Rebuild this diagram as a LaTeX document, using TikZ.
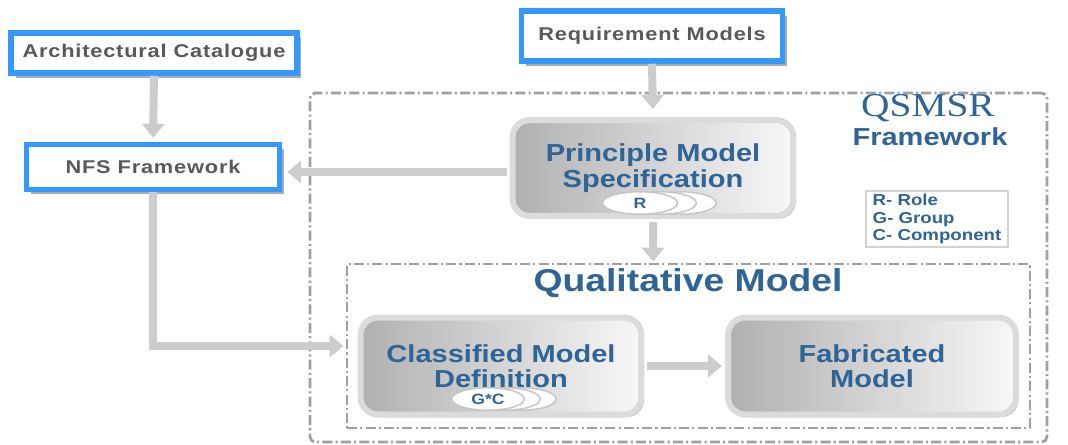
\documentclass[tikz,border=0pt]{standalone}
\usepackage{fontspec}
\setmainfont{Liberation Sans}[FakeStretch=1.18]
\newfontfamily\qsserif{Liberation Serif}[FakeStretch=1.18]
\usetikzlibrary{arrows.meta,shadows,shapes.geometric}

\definecolor{qblue}{HTML}{2F6496}
\definecolor{boxblue}{HTML}{3399FF}
\definecolor{arrowgray}{HTML}{CCCCCC}
\definecolor{labelgray}{HTML}{595959}
\definecolor{framegray}{HTML}{A0A0A0}

\tikzset{
  inputbox/.style={draw=boxblue, line width=0.11cm, fill=white, text=labelgray,
    font=\bfseries\fontsize{10.5}{12}\selectfont\addfontfeatures{LetterSpace=4.5}, inner sep=0pt,
    drop shadow={shadow xshift=0.09cm, shadow yshift=-0.09cm, fill=gray!65, opacity=1}},
  procbox/.style={rounded corners=0.35cm, draw=gray!28, line width=0.12cm,
    left color=gray!62, right color=gray!6, text=qblue, align=center,
    font=\bfseries\fontsize{14}{14.4}\selectfont, inner sep=0pt,
    drop shadow={shadow xshift=0.05cm, shadow yshift=-0.05cm, fill=gray!70, opacity=1}},
  flow/.style={draw=arrowgray, line width=0.16cm, -{Triangle[width=0.44cm,length=0.28cm]}},
  frame/.style={draw=framegray, line width=0.055cm,
    dash pattern=on 5.7pt off 1.8pt on 1.2pt off 1.8pt},
  tag/.style={ellipse, draw=gray!45, line width=0.03cm, fill=white, minimum width=1.45cm,
    minimum height=0.45cm, inner sep=0pt, text=qblue, font=\bfseries\fontsize{8.5}{9}\selectfont},
  heading/.style={text=qblue, inner sep=0pt}
}

\begin{document}
\begin{tikzpicture}[x=0.02cm, y=-0.02cm]
  \useasboundingbox (0,0) rectangle (1068,444);

  % frames
  \node[frame, rounded corners=0.1cm, minimum width=14.74cm, minimum height=6.98cm] (qsmsr) at (678.5,267.5) {};
  \node[frame, minimum width=13.66cm, minimum height=3.28cm] (qual) at (688.5,346) {};

  \node[heading, font=\qsserif\fontsize{19}{20}\selectfont] (qstitle) at (928,108) {QSMSR};
  \node[heading, font=\bfseries\fontsize{14}{15}\selectfont] (fwtitle) at (930,137) {Framework};
  \node[heading, font=\bfseries\fontsize{18}{19}\selectfont] (qualtitle) at (688,283) {Qualitative Model};

  % legend
  \node[draw=gray!35, line width=0.04cm, fill=white, anchor=north west, align=left,
    inner xsep=0.05cm, inner ysep=0.06cm, minimum width=2.84cm, minimum height=1.12cm,
    text=qblue, font=\bfseries\fontsize{9}{9.9}\selectfont] (legend) at (865,190)
    {R- Role\\G- Group\\C- Component};

  % input boxes
  \node[inputbox, minimum width=5.72cm, minimum height=0.8cm] (arch) at (154,53) {Architectural Catalogue};
  \node[inputbox, minimum width=5.22cm, minimum height=1.0cm] (req) at (652,36) {Requirement Models};
  \node[inputbox, minimum width=5.06cm, minimum height=0.9cm] (nfs) at (153,167) {NFS Framework};

  % model boxes
  \node[procbox, minimum width=5.62cm, minimum height=1.92cm] (princ) at (653,168) {Principle Model\\Specification};
  \node[procbox, minimum width=5.62cm, minimum height=1.94cm] (cls) at (501,366) {Classified Model\\Definition};
  \node[procbox, minimum width=5.76cm, minimum height=1.94cm] (fab) at (872,366) {Fabricated\\Model};

  % role tags
  \node[tag] (r3) at (680,203) {};
  \node[tag] (r2) at (660,203) {};
  \node[tag, minimum width=1.5cm] (rtag) at (640,203) {R};
  \node[tag] (gc3) at (520,399) {};
  \node[tag] (gc2) at (504,399) {};
  \node[tag] (gctag) at (488,399) {G*C};

  % connectors
  \draw[flow, shorten >=0.16cm] (req.south) -- (princ.north);
  \draw[flow, shorten <=0.06cm, shorten >=0.02cm] (princ.south) -- (princ.south |- qual.north);
  \draw[flow, shorten >=0.08cm] (arch.south) -- (nfs.north);
  \draw[flow, shorten <=0.06cm, shorten >=0.1cm] ([yshift=-0.08cm]princ.west) -- ([yshift=-0.08cm]princ.west -| nfs.east);
  \draw[flow, shorten >=0.28cm] (nfs.south) |- ([yshift=0.4cm]cls.west);
  \draw[flow, shorten <=0.06cm, shorten >=0.06cm] (cls.east) -- (fab.west);
\end{tikzpicture}
\end{document}
